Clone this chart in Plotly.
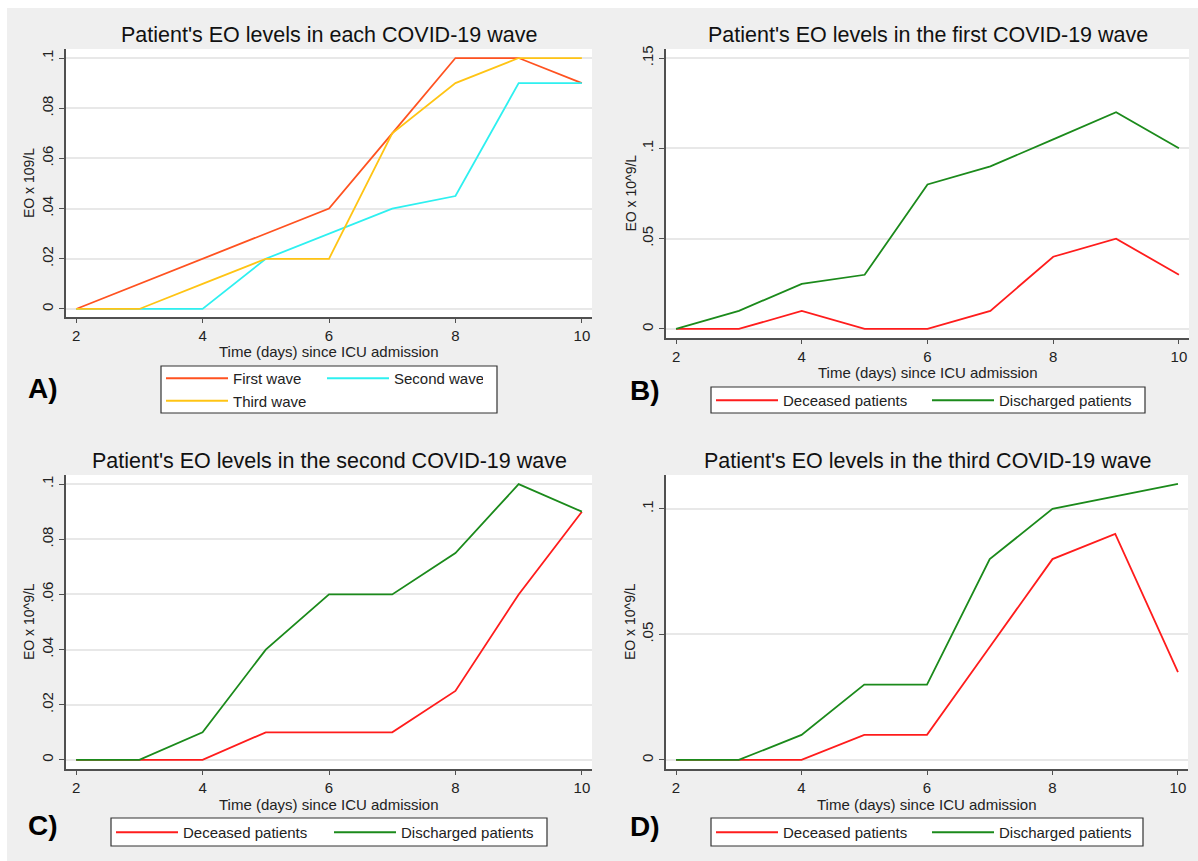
import plotly.graph_objects as go

W, H = 1198, 861
FONT = "Liberation Sans, Arial, sans-serif"

# Days since ICU admission
days = [2, 3, 4, 5, 6, 7, 8, 9, 10]

# Panel A: median EO (x10^9/L) per wave
first_wave = [0, 0.01, 0.02, 0.03, 0.04, 0.07, 0.10, 0.10, 0.09]
second_wave = [0, 0, 0, 0.02, 0.03, 0.04, 0.045, 0.09, 0.09]
third_wave = [0, 0, 0.01, 0.02, 0.02, 0.07, 0.09, 0.10, 0.10]

# Panels B-D: deceased vs discharged per wave
w1_deceased = [0, 0, 0.01, 0, 0, 0.01, 0.04, 0.05, 0.03]
w1_discharged = [0, 0.01, 0.025, 0.03, 0.08, 0.09, 0.105, 0.12, 0.10]
w2_deceased = [0, 0, 0, 0.01, 0.01, 0.01, 0.025, 0.06, 0.09]
w2_discharged = [0, 0, 0.01, 0.04, 0.06, 0.06, 0.075, 0.10, 0.09]
w3_deceased = [0, 0, 0, 0.01, 0.01, 0.045, 0.08, 0.09, 0.035]
w3_discharged = [0, 0, 0.01, 0.03, 0.03, 0.08, 0.10, 0.105, 0.11]

# Tick values / labels
x_ticks = [2, 4, 6, 8, 10]
y_ticks_02 = [0, 0.02, 0.04, 0.06, 0.08, 0.1]
y_labels_02 = ["0", ".02", ".04", ".06", ".08", ".1"]
y_ticks_05 = [0, 0.05, 0.1, 0.15]
y_labels_05 = ["0", ".05", ".1", ".15"]

titles = [
    "Patient's EO levels in each COVID-19 wave",
    "Patient's EO levels in the first COVID-19 wave",
    "Patient's EO levels in the second COVID-19 wave",
    "Patient's EO levels in the third COVID-19 wave",
]
x_title = "Time (days) since ICU admission"
y_titles = ["EO x 109/L", "EO x 10^9/L", "EO x 10^9/L", "EO x 10^9/L"]
panel_tags = ["A)", "B)", "C)", "D)"]

C_FIRST, C_SECOND, C_THIRD = "#ff5220", "#2ef0f0", "#ffc414"
C_DEAD, C_DISCH = "#ff1c1c", "#1b8a1b"
AXIS_C = "#505050"
GRID_C = "#e8e8e8"


def fx(p):
    return p / W


def fy(p):
    return 1 - p / H


# pixel layout of each panel; box = legend frame (x0, y0, x1, y1)
panels = [
    dict(px=(66, 592), py=(49, 317), yr=(-0.0032, 0.1036), yt=(y_ticks_02, y_labels_02),
         title_y=35, xt_y=351, yt_x=29, tag=(43, 388), leg=(161, 362), ew=84,
         box=(161, 366, 497, 413)),
    dict(px=(666, 1189), py=(49, 338), yr=(-0.0050, 0.1550), yt=(y_ticks_05, y_labels_05),
         title_y=35, xt_y=372, yt_x=630, tag=(645, 390), leg=(711, 384), ew=139,
         box=(711, 387, 1145, 413)),
    dict(px=(66, 592), py=(475, 769), yr=(-0.0033, 0.1033), yt=(y_ticks_02, y_labels_02),
         title_y=461, xt_y=804, yt_x=29, tag=(43, 825), leg=(111, 816), ew=141,
         box=(111, 818, 547, 846)),
    dict(px=(666, 1188), py=(475, 769), yr=(-0.0036, 0.1135), yt=([0, 0.05, 0.1], ["0", ".05", ".1"]),
         title_y=461, xt_y=804, yt_x=630, tag=(645, 826), leg=(711, 816), ew=139,
         box=(711, 818, 1143, 846)),
]

# (name, values, colour, legend column group)
series = [
    [("First wave", first_wave, C_FIRST, "c1"), ("Second wave", second_wave, C_SECOND, "c2"),
     ("Third wave", third_wave, C_THIRD, "c1")],
    [("Deceased patients", w1_deceased, C_DEAD, None), ("Discharged patients", w1_discharged, C_DISCH, None)],
    [("Deceased patients", w2_deceased, C_DEAD, None), ("Discharged patients", w2_discharged, C_DISCH, None)],
    [("Deceased patients", w3_deceased, C_DEAD, None), ("Discharged patients", w3_discharged, C_DISCH, None)],
]

fig = go.Figure()
annotations = []
shapes = []
layout = {}

for i, (p, ser) in enumerate(zip(panels, series)):
    n = "" if i == 0 else str(i + 1)
    leg_name = "legend" if i == 0 else f"legend{i + 1}"
    for name, vals, col, grp in ser:
        fig.add_trace(go.Scatter(
            x=days, y=vals, mode="lines", name=name,
            line=dict(color=col, width=1.8),
            xaxis="x" + n, yaxis="y" + n, legend=leg_name, showlegend=True,
            legendgroup=(f"p{i}{grp}" if grp else None),
        ))

    layout["xaxis" + n] = dict(
        domain=[fx(p["px"][0]), fx(p["px"][1])], range=[1.84, 10.16],
        anchor="y" + n, tickvals=x_ticks, showgrid=False, zeroline=False,
        showline=True, linecolor=AXIS_C, linewidth=1.5, ticks="outside",
        ticklen=4, tickcolor=AXIS_C, tickwidth=1.3,
        tickfont=dict(family=FONT, size=15, color="#222"),
    )
    layout["yaxis" + n] = dict(
        domain=[fy(p["py"][1]), fy(p["py"][0])], range=list(p["yr"]),
        anchor="x" + n, tickvals=p["yt"][0], ticktext=p["yt"][1], tickangle=-90,
        showgrid=True, gridcolor=GRID_C, gridwidth=1.5, zeroline=False,
        showline=True, linecolor=AXIS_C, linewidth=1.5, ticks="outside",
        ticklen=5, tickcolor=AXIS_C, tickwidth=1.3,
        tickfont=dict(family=FONT, size=15, color="#222"),
    )

    cx = fx((p["px"][0] + p["px"][1]) / 2)
    cy = fy((p["py"][0] + p["py"][1]) / 2)
    annotations += [
        dict(text=titles[i], x=cx, y=fy(p["title_y"]), xref="paper", yref="paper",
             showarrow=False, xanchor="center", yanchor="middle",
             font=dict(family=FONT, size=21.5, color="#111")),
        dict(text=x_title, x=cx, y=fy(p["xt_y"]), xref="paper", yref="paper",
             showarrow=False, xanchor="center", yanchor="middle",
             font=dict(family=FONT, size=15, color="#222")),
        dict(text=y_titles[i], x=fx(p["yt_x"]), y=cy, xref="paper", yref="paper",
             showarrow=False, xanchor="center", yanchor="middle", textangle=-90,
             font=dict(family=FONT, size=14, color="#222")),
        dict(text="<b>" + panel_tags[i] + "</b>", x=fx(p["tag"][0]), y=fy(p["tag"][1]),
             xref="paper", yref="paper", showarrow=False, xanchor="center", yanchor="middle",
             font=dict(family=FONT, size=28, color="#000")),
    ]

    # legend frame drawn as a shape so its extent is fixed
    bx0, by0, bx1, by1 = p["box"]
    shapes.append(dict(type="rect", xref="paper", yref="paper",
                       x0=fx(bx0), x1=fx(bx1), y0=fy(by1), y1=fy(by0),
                       fillcolor="white", line=dict(color="#333", width=1.2), layer="below"))

    layout[leg_name] = dict(
        x=fx(p["leg"][0]), y=fy(p["leg"][1]), xanchor="left", yanchor="top",
        orientation="h", bgcolor="rgba(0,0,0,0)", borderwidth=0,
        font=dict(family=FONT, size=15, color="#222"), itemwidth=62,
        entrywidth=p["ew"], entrywidthmode="pixels", tracegroupgap=0,
        traceorder="grouped" if i == 0 else "normal",
        itemclick=False, itemdoubleclick=False,
    )

# white outer strip along the top and left edges
shapes += [
    dict(type="rect", xref="paper", yref="paper", x0=0, x1=fx(7), y0=0, y1=1,
         fillcolor="white", line=dict(width=0), layer="above"),
    dict(type="rect", xref="paper", yref="paper", x0=0, x1=1, y0=fy(8), y1=1,
         fillcolor="white", line=dict(width=0), layer="above"),
]

fig.update_layout(
    width=W, height=H, margin=dict(l=0, r=0, t=0, b=0, autoexpand=False),
    paper_bgcolor="#efefef", plot_bgcolor="white",
    annotations=annotations, shapes=shapes, **layout,
)

fig.write_html("out.html")
